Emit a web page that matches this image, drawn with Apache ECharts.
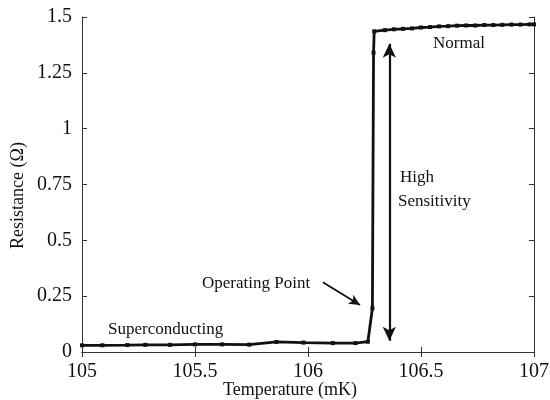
<!DOCTYPE html>
<html>
<head>
<meta charset="utf-8">
<script src="https://cdn.jsdelivr.net/npm/echarts@6/dist/echarts.min.js"></script>
<style>
  html, body { margin: 0; padding: 0; background: #ffffff; }
  #chart { width: 550px; height: 400px; }
</style>
</head>
<body>
<div id="chart"></div>
<script>
// Superconducting branch and transition (temperature in mK, resistance in ohm)
const tempSuper = [105.0, 105.09, 105.20, 105.28, 105.39, 105.50, 105.62, 105.74, 105.86, 105.98, 106.11, 106.21, 106.265, 106.285, 106.29];
const resSuper  = [0.030, 0.030, 0.031, 0.032, 0.032, 0.034, 0.034, 0.033, 0.045, 0.042, 0.040, 0.040, 0.046, 0.196, 1.340];

// Normal branch above the transition
const tempNormal = [106.293, 106.34, 106.38, 106.42, 106.46, 106.50, 106.54, 106.58, 106.62, 106.66, 106.70, 106.74, 106.78, 106.82, 106.86, 106.90, 106.94, 106.98, 107.0];
const resNormal  = [1.436, 1.441, 1.445, 1.447, 1.449, 1.453, 1.455, 1.458, 1.459, 1.461, 1.462, 1.462, 1.464, 1.464, 1.465, 1.466, 1.466, 1.467, 1.467];

// Axis ranges and ticks
const xRange = [105, 107];
const xStep = 0.5;
const yRange = [0, 1.5];
const yStep = 0.25;

// Annotation arrows in data coordinates
const operatingArrow = [[106.066, 0.3125], [106.23, 0.21]];
const sensitivityArrow = [[106.36, 0.05], [106.36, 1.38]];

const points = tempSuper.map((t, i) => [t, resSuper[i]])
  .concat(tempNormal.map((t, i) => [t, resNormal[i]]));

const serif = "'Liberation Serif', 'Times New Roman', serif";
const ink = '#111111';

const tickStyle = { show: true, inside: true, length: 5, lineStyle: { color: '#333', width: 1 } };
const axisLineStyle = { show: true, lineStyle: { color: '#333', width: 1 } };

const chart = echarts.init(document.getElementById('chart'), null, { renderer: 'canvas' });

chart.setOption({
  animation: false,
  backgroundColor: '#ffffff',
  grid: { left: 82, right: 16, top: 17, bottom: 48, containLabel: false, outerBoundsMode: 'none' },
  xAxis: [
    {
      type: 'value', min: xRange[0], max: xRange[1], interval: xStep,
      position: 'bottom',
      axisLine: axisLineStyle, axisTick: tickStyle, splitLine: { show: false },
      axisLabel: { color: ink, fontFamily: serif, fontSize: 20, margin: 10 },
      name: 'Temperature (mK)', nameLocation: 'middle', nameGap: 29, nameMoveOverlap: false,
      nameTextStyle: { color: ink, fontFamily: serif, fontSize: 18, padding: [0, 36, 0, 0] }
    },
    {
      type: 'value', min: xRange[0], max: xRange[1], interval: xStep,
      position: 'top',
      axisLine: axisLineStyle, axisTick: tickStyle, splitLine: { show: false },
      axisLabel: { show: false }
    }
  ],
  yAxis: [
    {
      type: 'value', min: yRange[0], max: yRange[1], interval: yStep,
      position: 'left',
      axisLine: axisLineStyle, axisTick: tickStyle, splitLine: { show: false },
      axisLabel: { color: ink, fontFamily: serif, fontSize: 20, margin: 10 },
      name: 'Resistance (\u03A9)', nameLocation: 'middle', nameGap: 55, nameMoveOverlap: false,
      nameTextStyle: { color: ink, fontFamily: serif, fontSize: 18, padding: [0, 22, 0, 0] }
    },
    {
      type: 'value', min: yRange[0], max: yRange[1], interval: yStep,
      position: 'right',
      axisLine: axisLineStyle, axisTick: tickStyle, splitLine: { show: false },
      axisLabel: { show: false }
    }
  ],
  series: [
    {
      type: 'line',
      data: points,
      xAxisIndex: 0, yAxisIndex: 0,
      symbol: 'rect', symbolSize: 4, showSymbol: true,
      lineStyle: { color: ink, width: 2.8 },
      itemStyle: { color: ink },
      clip: false,
      markLine: {
        silent: true,
        animation: false,
        label: { show: false },
        lineStyle: { color: ink, type: 'solid' },
        data: [
          [
            { coord: operatingArrow[0], symbol: 'none', lineStyle: { width: 1.8 } },
            { coord: operatingArrow[1], symbol: 'arrow', symbolSize: [8, 11] }
          ],
          [
            { coord: sensitivityArrow[0], symbol: 'arrow', symbolSize: [10, 14], lineStyle: { width: 2.2 } },
            { coord: sensitivityArrow[1], symbol: 'arrow', symbolSize: [10, 14] }
          ]
        ]
      }
    }
  ],
  graphic: [
    { type: 'text', x: 433, y: 44, style: { text: 'Normal', fill: ink, font: '17px ' + serif, verticalAlign: 'middle' } },
    { type: 'text', x: 400, y: 178, style: { text: 'High', fill: ink, font: '17px ' + serif, verticalAlign: 'middle' } },
    { type: 'text', x: 398, y: 202, style: { text: 'Sensitivity', fill: ink, font: '17px ' + serif, verticalAlign: 'middle' } },
    { type: 'text', x: 202, y: 284, style: { text: 'Operating Point', fill: ink, font: '17px ' + serif, verticalAlign: 'middle' } },
    { type: 'text', x: 108, y: 330, style: { text: 'Superconducting', fill: ink, font: '17px ' + serif, verticalAlign: 'middle' } }
  ]
});
</script>
</body>
</html>
